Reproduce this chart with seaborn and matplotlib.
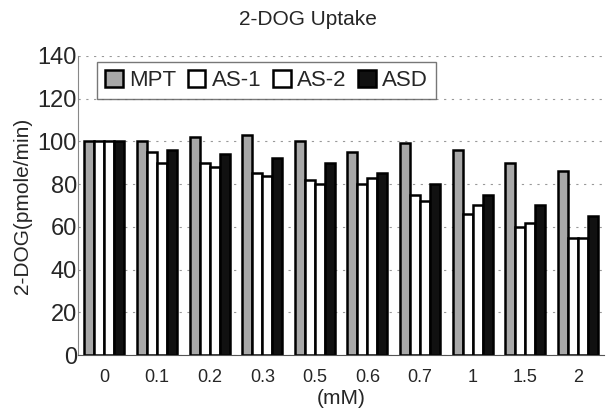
#!/usr/bin/env python3
"""2-DOG uptake bar chart."""

import matplotlib
matplotlib.use("Agg")
import matplotlib.pyplot as plt
import pandas as pd
import seaborn as sns

DOSES = ["0", "0.1", "0.2", "0.3", "0.5", "0.6", "0.7", "1", "1.5", "2"]
MPT = [100, 100, 102, 103, 100, 95, 99, 96, 90, 86]
AS1 = [100, 95, 90, 85, 82, 80, 75, 66, 60, 55]
AS2 = [100, 90, 88, 84, 80, 83, 72, 70, 62, 55]
ASD = [100, 96, 94, 92, 90, 85, 80, 75, 70, 65]
SERIES = ["MPT", "AS-1", "AS-2", "ASD"]
COLORS = ["#a8a8a8", "#ffffff", "#ffffff", "#111111"]

rows = []
for name, vals in zip(SERIES, [MPT, AS1, AS2, ASD]):
    for d, v in zip(DOSES, vals):
        rows.append({"dose": d, "series": name, "value": v})
df = pd.DataFrame(rows)

sns.set_style("white")
plt.rcParams["font.family"] = ["Liberation Sans", "DejaVu Sans"]

fig, ax = plt.subplots(figsize=(6.06, 4.13), dpi=100)
fig.subplots_adjust(left=0.129, right=0.997, top=0.865, bottom=0.14)

sns.barplot(data=df, x="dose", y="value", hue="series", order=DOSES,
            hue_order=SERIES, palette=COLORS, edgecolor="black",
            linewidth=1.8, width=0.76, gap=0.0, ax=ax, saturation=1)

ax.set_ylim(0, 140)
ax.set_yticks(range(0, 141, 20))
ax.yaxis.grid(True, linestyle=(0, (2, 5)), color="#999999", linewidth=0.8)
ax.set_axisbelow(True)
for s in ["top", "right"]:
    ax.spines[s].set_visible(False)
ax.spines["left"].set_color("#888888")
ax.spines["bottom"].set_color("#555555")
ax.tick_params(axis="y", labelsize=17, length=0, pad=1)
ax.tick_params(axis="x", labelsize=13, length=0, pad=10)
ax.set_xlabel("(mM)", fontsize=15, labelpad=2)
ax.set_ylabel("2-DOG(pmole/min)", fontsize=15, labelpad=4)
fig.suptitle("2-DOG Uptake", fontsize=15, x=0.508, y=0.975)

leg = ax.legend(loc="upper left", ncol=4, fontsize=16, frameon=True,
                fancybox=False, edgecolor="#555555", handlelength=0.8,
                handleheight=0.8, handletextpad=0.3, columnspacing=0.5,
                borderpad=0.35, borderaxespad=0,
                bbox_to_anchor=(0.036, 0.98))
leg.get_frame().set_linewidth(1.0)

fig.savefig("out.png", dpi=100)
